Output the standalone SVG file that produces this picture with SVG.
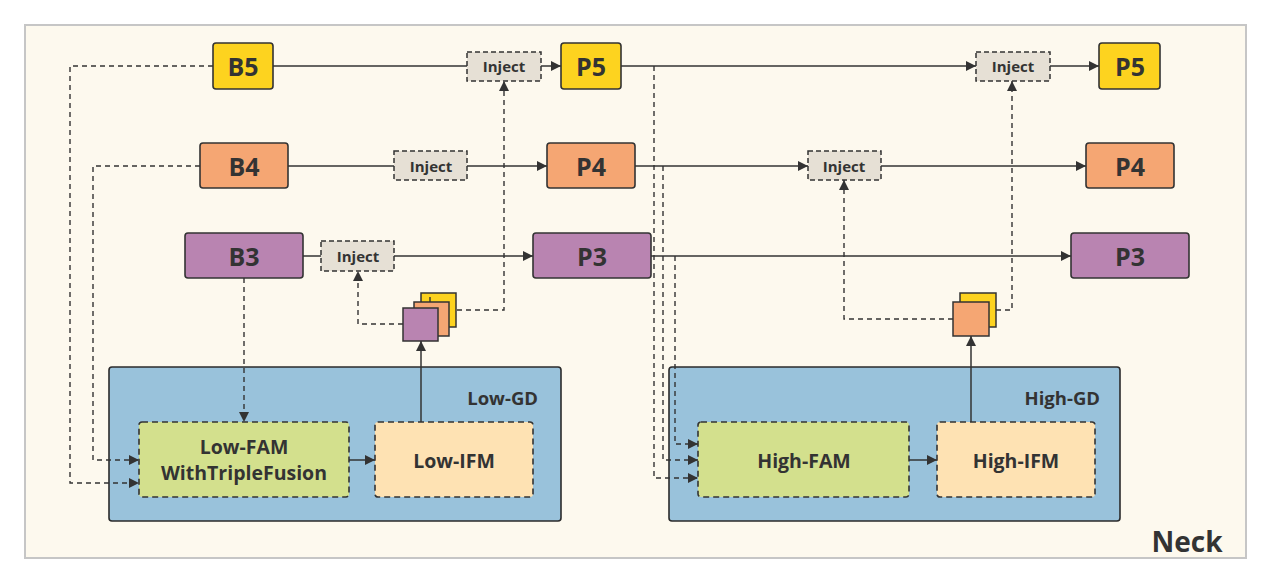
<svg xmlns="http://www.w3.org/2000/svg" width="1272" height="585" viewBox="0 0 1272 585">
<defs>
<marker id="ah" viewBox="0 0 10 10" refX="10" refY="5" markerWidth="10" markerHeight="10" markerUnits="userSpaceOnUse" orient="auto">
<path d="M0,0 L10,5 L0,10 Z" fill="#333"/>
</marker>
<style>
text{font-family:"Open Sans","Noto Sans","DejaVu Sans",sans-serif;font-weight:bold;fill:#333;text-anchor:middle;dominant-baseline:central}
.node{stroke:#333;stroke-width:1.6}
.big{font-size:25px}
.inj{fill:#E6E0D5;stroke:#333;stroke-width:1.5;stroke-dasharray:5,3}
.injt{font-size:15px}
.mod{stroke:#333;stroke-width:1.6;stroke-dasharray:6,4}
.mt{font-size:19.5px}
.gd{fill:#99C2DB;stroke:#2b2b2b;stroke-width:1.6}
.gdt{font-size:18.5px;text-anchor:end}
.sq{stroke:#333;stroke-width:1.5}
.c{fill:none;stroke:#333;stroke-width:1.5}
.d{fill:none;stroke:#333;stroke-width:1.4;stroke-dasharray:5,4}
.a{marker-end:url(#ah)}
</style>
</defs>
<rect x="25" y="25" width="1221" height="533" fill="#FDF9EE" stroke="#C6C6C6" stroke-width="2"/>

<g id="low-gd"><rect class="gd" x="109" y="367" width="452" height="154" rx="3"/><text class="gdt" x="538" y="397">Low-GD</text></g>
<g id="high-gd"><rect class="gd" x="669" y="367" width="451" height="154" rx="3"/><text class="gdt" x="1100" y="397">High-GD</text></g>

<g id="connectors">
<path class="c" d="M273,66 H467"/>
<path class="c a" d="M541,66 H561"/>
<path class="c" d="M288,166 H394"/>
<path class="c a" d="M467,166 H547"/>
<path class="c" d="M303,256 H321"/>
<path class="c a" d="M394,256 H533"/>
<path class="c a" d="M621,66 H976"/>
<path class="c a" d="M1050,66 H1099"/>
<path class="c a" d="M635,166 H808"/>
<path class="c a" d="M881,166 H1086"/>
<path class="c a" d="M651,256 H1071"/>
<path class="d a" d="M213,66 H70 V483 H139"/>
<path class="d a" d="M200,166 H93 V460 H139"/>
<path class="d a" d="M244,278 V422"/>
<path class="c a" d="M349,460 H375"/>
<path class="c a" d="M421,422 V341"/>
<path class="d a" d="M403,324 H358 V271"/>
<path class="d a" d="M457,310 H504 V81"/>
<path class="d a" d="M654,66 V478 H698"/>
<path class="d a" d="M663,166 V460 H698"/>
<path class="d a" d="M675,256 V444 H698"/>
<path class="c a" d="M909,460 H937"/>
<path class="c a" d="M971,422 V336"/>
<path class="d a" d="M953,319 H844 V180"/>
<path class="d a" d="M996,310 H1012 V81"/>
</g>

<g id="B5"><rect class="node" x="213" y="43" width="60" height="46" rx="3" fill="#FDD31F"/><text class="big" x="243" y="66">B5</text></g>
<g id="B4"><rect class="node" x="200" y="143" width="88" height="45" rx="3" fill="#F5A673"/><text class="big" x="244" y="166">B4</text></g>
<g id="B3"><rect class="node" x="185" y="233" width="118" height="45" rx="3" fill="#B984B1"/><text class="big" x="244" y="256">B3</text></g>
<g id="P5a"><rect class="node" x="561" y="43" width="60" height="46" rx="3" fill="#FDD31F"/><text class="big" x="591" y="66">P5</text></g>
<g id="P4a"><rect class="node" x="547" y="143" width="88" height="45" rx="3" fill="#F5A673"/><text class="big" x="591" y="166">P4</text></g>
<g id="P3a"><rect class="node" x="533" y="233" width="118" height="45" rx="3" fill="#B984B1"/><text class="big" x="592" y="256">P3</text></g>
<g id="P5b"><rect class="node" x="1099" y="43" width="61" height="46" rx="3" fill="#FDD31F"/><text class="big" x="1130" y="66">P5</text></g>
<g id="P4b"><rect class="node" x="1086" y="143" width="88" height="45" rx="3" fill="#F5A673"/><text class="big" x="1130" y="166">P4</text></g>
<g id="P3b"><rect class="node" x="1071" y="233" width="118" height="45" rx="3" fill="#B984B1"/><text class="big" x="1130" y="256">P3</text></g>

<g id="inject1"><rect class="inj" x="467" y="52" width="74" height="29"/><text class="injt" x="504" y="66">Inject</text></g>
<g id="inject2"><rect class="inj" x="394" y="151" width="73" height="29"/><text class="injt" x="431" y="166">Inject</text></g>
<g id="inject3"><rect class="inj" x="321" y="241" width="73" height="30"/><text class="injt" x="358" y="256">Inject</text></g>
<g id="inject4"><rect class="inj" x="976" y="52" width="74" height="29"/><text class="injt" x="1013" y="66">Inject</text></g>
<g id="inject5"><rect class="inj" x="808" y="151" width="73" height="29"/><text class="injt" x="844" y="166">Inject</text></g>

<g id="low-fam"><rect class="mod" x="139" y="422" width="210" height="75" rx="3" fill="#D3E08D"/><text class="mt" x="244" y="446">Low-FAM</text><text class="mt" x="244" y="472">WithTripleFusion</text></g>
<g id="low-ifm"><rect class="mod" x="375" y="422" width="158" height="75" rx="3" fill="#FEE2B3"/><text class="mt" x="454" y="460">Low-IFM</text></g>
<g id="high-fam"><rect class="mod" x="698" y="422" width="211" height="75" rx="3" fill="#D3E08D"/><text class="mt" x="804" y="460">High-FAM</text></g>
<g id="high-ifm"><rect class="mod" x="937" y="422" width="158" height="75" rx="3" fill="#FEE2B3"/><text class="mt" x="1016" y="460">High-IFM</text></g>

<g id="low-stack">
<rect class="sq" x="421" y="293" width="35" height="34" fill="#FDD31F"/>
<rect class="sq" x="414" y="302" width="35" height="34" fill="#F5A673"/>
<rect class="sq" x="403" y="308" width="35" height="33" fill="#B984B1"/>
<path class="d" d="M430,302 V293"/>
</g>
<g id="high-stack">
<rect class="sq" x="960" y="293" width="36" height="34" fill="#FDD31F"/>
<rect class="sq" x="953" y="302" width="36" height="34" fill="#F5A673"/>
</g>

<text x="1187" y="541" style="font-size:28px">Neck</text>
</svg>
